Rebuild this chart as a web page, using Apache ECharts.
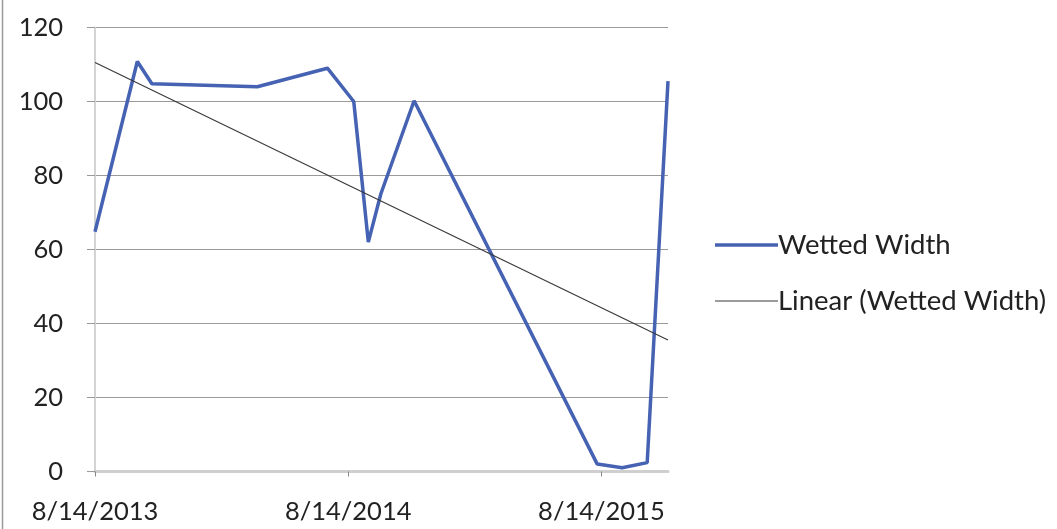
<!DOCTYPE html>
<html>
<head>
<meta charset="utf-8">
<script src="https://cdn.jsdelivr.net/npm/echarts@6/dist/echarts.min.js"></script>
<style>html,body{margin:0;padding:0;background:#fff;}#c{width:1057px;height:529px;}</style>
</head>
<body>
<div id="c"></div>
<script>
const startDate = '2013-08-14';
const dates = ['2013-08-14','2013-10-14','2013-11-04','2014-04-05','2014-07-15','2014-08-22','2014-09-12','2014-09-30','2014-11-17','2015-08-08','2015-09-13','2015-10-19','2015-11-18'];
const widths = [64.8, 110.8, 104.8, 104, 109, 100, 62, 75, 100.2, 2, 1, 2.4, 105.5];
const xTickDays = [0, 365, 730];
const yTicks = [0, 20, 40, 60, 80, 100, 120];
const seriesName = 'Wetted Width';
const trendName = 'Linear (Wetted Width)';

function toDay(s) {
  const p = s.split('-').map(Number), q = startDate.split('-').map(Number);
  return Math.round((Date.UTC(p[0], p[1]-1, p[2]) - Date.UTC(q[0], q[1]-1, q[2])) / 86400000);
}
function fmtDay(v) {
  const q = startDate.split('-').map(Number);
  const d = new Date(Date.UTC(q[0], q[1]-1, q[2]) + v * 86400000);
  return (d.getUTCMonth()+1) + '/' + d.getUTCDate() + '/' + d.getUTCFullYear();
}
const days = dates.map(toDay);
const pts = days.map((d, i) => [d, widths[i]]);
// least squares trend line
const n = pts.length;
const mx = days.reduce((a,b)=>a+b,0)/n, my = widths.reduce((a,b)=>a+b,0)/n;
let sxy = 0, sxx = 0;
for (let i = 0; i < n; i++) { sxy += (days[i]-mx)*(widths[i]-my); sxx += (days[i]-mx)*(days[i]-mx); }
const slope = sxy/sxx, icpt = my - slope*mx;
const first = days[0], last = days[n-1];
const trend = [[first, icpt + slope*first], [last, icpt + slope*last]];

const FONT = 'Lato';
const BLUE = '#4662b3';
const chart = echarts.init(document.getElementById('c'));
const legendText = { fontFamily: FONT, fontSize: 27.5, color: '#222', padding: [0,0,0,-5] };
chart.setOption({
  animation: false,
  backgroundColor: '#fff',
  grid: { left: 95, right: 389, top: 27.5, bottom: 57.5 },
  xAxis: {
    type: 'value', min: first, max: last, interval: 365,
    axisLine: { show: true, lineStyle: { color: '#cfcfcf', width: 3 } },
    axisTick: { show: true, customValues: xTickDays, length: 5, lineStyle: { color: '#888' } },
    splitLine: { show: false },
    axisLabel: { customValues: xTickDays, formatter: fmtDay, color: '#222', fontFamily: FONT, fontSize: 25.5, margin: 27 }
  },
  yAxis: {
    type: 'value', min: 0, max: 120, interval: 20,
    axisLine: { show: true, lineStyle: { color: '#d4d4d4', width: 2 } },
    axisTick: { show: true, inside: false, length: 8, lineStyle: { color: '#999' } },
    splitLine: { show: true, lineStyle: { color: '#9a9a9a', width: 1.2 } },
    axisLabel: { color: '#222', fontFamily: FONT, fontSize: 25.5, margin: 32 }
  },
  legend: [
    { orient: 'vertical', left: 710, top: 226, icon: 'rect', itemWidth: 63, itemHeight: 3.5,
      textStyle: legendText, data: [seriesName] },
    { orient: 'vertical', left: 710, top: 282, icon: 'rect', itemWidth: 63, itemHeight: 1.2,
      textStyle: legendText, data: [trendName] }
  ],
  series: [
    { name: seriesName, type: 'line', data: pts, symbol: 'none', lineStyle: { color: BLUE, width: 3.5 }, itemStyle: { color: BLUE }, z: 3 },
    { name: trendName, type: 'line', data: trend, symbol: 'none', lineStyle: { color: '#3a3a3a', width: 1.2 }, itemStyle: { color: '#3a3a3a' }, z: 4 }
  ],
  graphic: [
    { type: 'line', shape: { x1: 2.5, y1: 0, x2: 2.5, y2: 529 }, style: { stroke: '#999', lineWidth: 1.5 } }
  ]
});
</script>
</body>
</html>
